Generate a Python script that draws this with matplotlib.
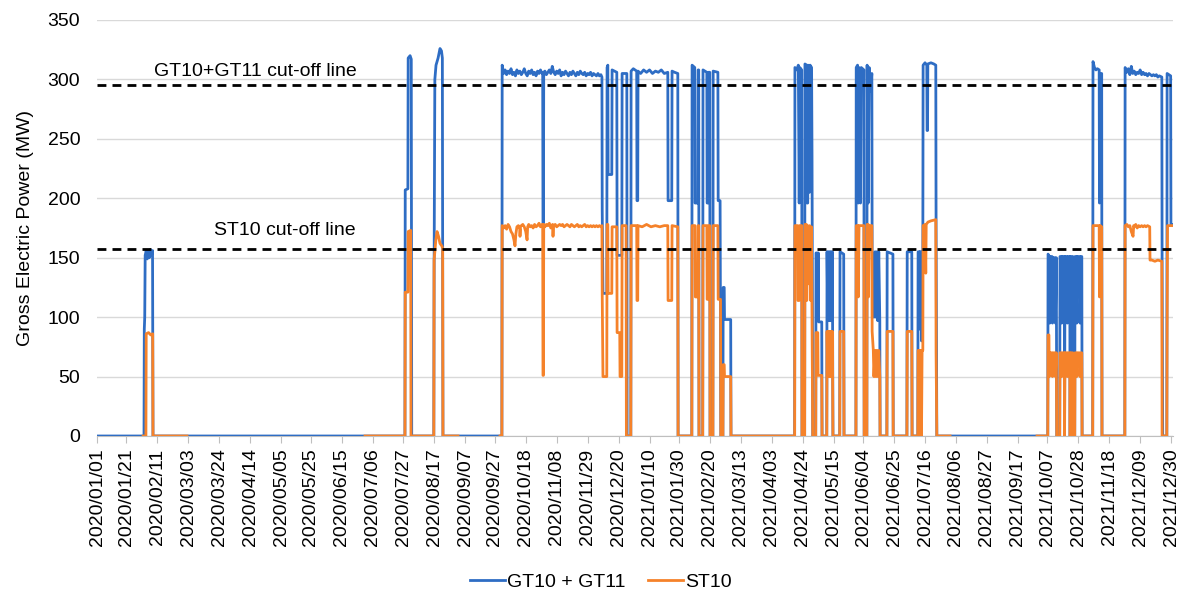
import numpy as np
import pandas as pd
import matplotlib
matplotlib.use("Agg")
import matplotlib.pyplot as plt

plt.rcParams['font.family'] = ['Liberation Sans', 'DejaVu Sans']

# x values: days since 2020-01-01, y values: MW
gt_points = [
    (0, 0), (31.9, 0), (32.1, 90), (32.4, 100), (32.7, 152), (33.4, 156), (34.1, 149), (34.8, 156), (35.5, 150),
    (36.2, 157), (37.0, 152), (37.7, 156), (38.0, 0),
    (209.0, 0), (209.2, 207), (211.0, 208), (211.2, 318), (212.5, 320), (213.3, 317), (213.6, 0),
    (228.6, 0), (228.8, 140), (229.3, 300), (230.1, 312), (231.5, 318), (232.8, 326), (233.8, 324), (234.4, 318), (234.8, 0),
    (274.8, 0), (275.0, 312), (276, 305), (277, 308), (278, 304), (279, 307), (280, 305), (281, 309), (282, 304),
    (283, 306), (284, 303), (285, 308), (286, 305), (287, 307), (288, 304), (289, 306), (290, 309), (291, 305),
    (292, 303), (293, 307), (294, 305), (295, 308), (296, 304), (297, 306), (298, 303), (299, 307), (300, 305),
    (301, 308), (302, 305), (302.5, 306), (302.7, 179), (303.0, 179), (303.2, 306), (304, 307), (305, 304),
    (306, 306), (307, 308), (308, 305), (309, 311), (310, 306), (311, 304), (312, 307), (313, 305), (314, 308),
    (315, 303), (316, 306), (317, 304), (318, 307), (319, 305), (320, 303), (321, 306), (322, 304), (323, 307),
    (324, 305), (325, 303), (326, 306), (327, 304), (328, 307), (329, 305), (330, 304), (331, 306), (332, 303),
    (333, 305), (334, 304), (335, 306), (336, 303), (337, 305), (338, 304), (339, 303), (340, 305), (341, 303),
    (342, 304), (342.7, 302),
    (342.9, 190), (343.4, 120), (346.0, 120), (346.2, 310), (346.7, 312), (346.9, 220), (349.4, 220), (349.6, 308),
    (352.8, 306), (353.0, 152), (356.2, 152), (356.4, 305), (359.6, 305), (359.8, 0), (362.3, 0), (362.5, 307),
    (364, 309), (366.3, 307), (366.5, 198), (367.0, 198), (367.2, 307), (369, 305), (371, 308), (373, 306),
    (375, 308), (377, 305), (379, 307), (381, 306), (383, 308), (385, 305), (387.4, 306), (387.6, 198),
    (390.1, 198), (390.3, 307), (392, 306), (394.2, 305), (394.4, 0),
    (403.7, 0), (403.9, 312), (405.7, 310), (405.9, 196), (407.8, 196), (408.0, 308), (408.4, 308), (408.6, 0),
    (411.1, 0), (411.3, 308), (413.9, 306), (414.1, 196), (414.8, 196), (415.0, 306), (415.9, 306), (416.1, 0),
    (418.0, 0), (418.2, 307), (421.4, 306), (421.6, 198), (422.9, 198), (423.4, 0), (424.8, 0), (425.0, 125),
    (425.7, 125), (425.9, 98), (430.1, 98), (430.3, 0),
    (473.5, 0), (473.7, 310), (475, 308), (476, 312), (476.6, 196), (477.0, 310), (478.3, 308), (478.5, 0),
    (480.3, 0), (480.5, 313), (481.7, 312), (481.9, 196), (482.4, 196), (482.6, 312), (483.5, 205), (484.0, 312),
    (485.0, 310), (485.3, 235), (485.8, 0), (487.8, 0), (488.0, 154), (488.8, 154), (489.0, 98), (489.6, 154),
    (489.8, 96), (491.9, 96), (492.1, 0), (495.3, 0), (495.5, 155), (496.0, 97), (496.4, 155), (496.9, 97),
    (497.3, 155), (497.8, 97), (498.2, 155), (498.7, 97), (499.1, 155), (499.5, 0), (504.1, 0), (504.3, 155),
    (506.8, 153), (507.0, 0),
    (515.1, 0), (515.3, 310), (516.2, 312), (516.7, 196), (517.2, 310), (518.2, 196), (518.7, 310), (520.5, 308),
    (520.7, 0), (522.5, 0), (522.7, 312), (523.4, 196), (524.1, 310), (525.0, 290), (525.9, 305), (526.1, 155),
    (526.9, 150), (527.3, 100), (528.1, 155), (528.6, 100), (529.3, 155), (529.9, 97), (530.6, 155), (531.3, 97),
    (531.5, 0), (536.1, 0), (536.3, 155), (540.2, 153), (540.4, 0),
    (549.7, 0), (549.9, 155), (553.0, 155), (553.2, 0), (557.1, 0), (557.3, 155), (558.1, 155), (558.3, 90),
    (558.6, 155), (559.3, 155), (559.6, 80), (560.0, 155), (560.5, 155), (560.7, 312), (562, 314), (563.2, 312),
    (563.4, 257), (563.7, 257), (563.9, 313), (566, 314), (568, 313), (569.3, 312), (569.5, 177), (570.0, 0),
    (645.3, 0), (645.5, 153), (646.4, 151), (646.7, 95), (647.2, 151), (648.2, 151), (648.5, 95), (649.1, 150),
    (650.2, 150), (650.5, 95), (651.1, 150), (651.4, 0), (653.4, 0), (653.6, 151), (654.5, 151), (654.8, 95),
    (655.3, 151), (656.5, 151), (656.7, 0), (657.0, 151), (658.3, 151), (658.6, 95), (659.2, 151), (660.2, 151),
    (660.5, 0), (660.8, 151), (662.3, 151), (662.5, 0), (663.6, 0), (663.8, 151), (664.7, 151), (665.0, 95),
    (665.5, 151), (666.9, 151), (667.2, 95), (667.9, 151), (668.4, 151), (668.6, 0),
    (675.8, 0), (676.0, 315), (677, 310), (678, 308), (679, 309), (680.2, 308), (680.4, 196), (680.9, 305),
    (681.9, 305), (682.1, 0),
    (697.6, 0), (697.8, 310), (699, 306), (700, 309), (701, 304), (702, 311), (703, 305), (704, 307), (705, 304),
    (706, 306), (707, 305), (708, 308), (709, 304), (710, 306), (711, 304), (712, 305), (713, 303), (714, 305),
    (715, 304), (716, 303), (717, 304), (718, 303), (719, 304), (720, 302), (721, 303), (722.7, 302),
    (722.9, 150), (723.3, 0), (726.1, 0), (726.3, 305), (727.5, 304), (728.7, 303), (728.9, 178), (730.3, 178),
]

st_points = [
    (31.3, 0), (33.2, 0), (33.4, 86), (35, 87), (36.5, 85), (37.8, 86), (38.0, 0), (61.1, 0), (61.2, np.nan),
    (181.9, 0), (209.0, 0), (209.2, 121), (211.0, 121), (211.2, 172), (212.9, 173), (213.1, 0),
    (228.6, 0), (228.8, 148), (230.0, 165), (230.8, 172), (231.8, 168), (232.8, 162), (234.0, 160), (234.6, 158),
    (234.8, 0), (245.0, 0), (245.1, np.nan),
    (273.5, 0), (274.8, 0), (275.0, 177), (276, 175), (277, 177), (278, 174), (279, 178), (280, 176), (281, 172),
    (282, 170), (283, 165), (283.7, 160), (284.3, 170), (285, 176), (286, 177), (287, 174), (287.1, 168),
    (287.4, 176), (288, 177), (289, 178), (290, 176), (291, 172), (291.9, 165), (292.3, 176), (293, 178),
    (294, 176), (295, 177), (296, 175), (297, 178), (298, 176), (299, 177), (300, 179), (301, 176), (302, 178),
    (302.5, 177), (302.7, 51), (303.0, 51), (303.2, 178), (304, 176), (305, 178), (306, 177), (307, 179),
    (308, 175), (309.2, 178), (309.5, 168), (309.9, 177), (311, 178), (312, 176), (313, 177), (314, 178),
    (315, 177), (316, 178), (317, 176), (318, 177), (319, 178), (320, 177), (321, 176), (322, 178), (323, 177),
    (324, 176), (325, 177), (326, 178), (327, 176), (328, 177), (329, 176), (330, 177), (331, 178), (332, 176),
    (333, 177), (334, 176), (335, 177), (336, 176), (337, 177), (338, 176), (339, 177), (340, 176), (341, 177),
    (342, 176), (342.7, 177),
    (342.9, 120), (343.4, 50), (346.0, 50), (346.2, 178), (346.7, 178), (346.9, 120), (349.4, 120), (349.6, 176),
    (352.8, 176), (353.0, 87), (354.8, 87), (355.0, 50), (356.2, 50), (356.4, 177), (359.1, 177), (359.3, 0),
    (362.3, 0), (362.5, 177), (366.3, 177), (366.5, 114), (367.0, 114), (367.2, 177), (370, 176), (373, 178),
    (376, 176), (379, 177), (382, 176), (385, 177), (387.4, 177), (387.6, 114), (390.1, 114), (390.3, 177),
    (394.2, 176), (394.4, 0),
    (403.7, 0), (403.9, 177), (405.9, 177), (406.1, 117), (407.8, 117), (408.0, 177), (408.4, 177), (408.6, 0),
    (411.1, 0), (411.3, 177), (413.9, 177), (414.1, 115), (414.8, 115), (415.0, 177), (415.9, 177), (416.1, 0),
    (418.0, 0), (418.2, 177), (421.4, 177), (421.6, 115), (423.2, 115), (423.4, 0), (424.8, 0), (425.0, 60),
    (425.7, 60), (425.9, 50), (430.1, 50), (430.3, 0),
    (473.5, 0), (473.7, 177), (475.5, 177), (475.7, 114), (476.6, 114), (476.8, 177), (478.3, 177), (478.5, 0),
    (480.3, 0), (480.5, 178), (481.5, 178), (481.7, 114), (482.3, 177), (483.2, 128), (483.7, 177), (484.4, 114),
    (484.9, 176), (485.8, 0), (487.8, 0), (488.0, 87), (489.2, 87), (489.4, 51), (491.9, 51), (492.1, 0),
    (495.3, 0), (495.5, 88), (496.0, 50), (496.4, 88), (496.9, 50), (497.3, 88), (497.8, 50), (498.2, 88),
    (498.7, 50), (499.1, 88), (499.5, 0), (504.1, 0), (504.3, 88), (506.8, 88), (507.0, 0),
    (515.1, 0), (515.3, 177), (516.5, 177), (516.7, 117), (517.2, 177), (520.5, 177), (520.7, 0), (522.5, 0),
    (522.7, 178), (523.4, 178), (523.6, 117), (524.1, 177), (525.9, 177), (526.1, 88), (526.9, 72), (527.3, 50),
    (528.1, 72), (528.6, 50), (529.3, 72), (529.9, 50), (530.6, 72), (531.3, 50), (531.5, 0), (536.1, 0),
    (536.3, 88), (540.2, 88), (540.4, 0),
    (549.7, 0), (549.9, 88), (553.0, 88), (553.2, 0), (557.1, 0), (557.3, 72), (558.1, 72), (558.3, 0),
    (558.6, 72), (559.3, 72), (559.6, 0), (560.0, 72), (560.5, 72), (560.7, 177), (562, 178), (562.5, 137),
    (562.8, 178), (564, 180), (566, 181), (569.3, 182), (569.5, 70), (570.0, 0), (579.0, 0), (579.1, np.nan),
    (638.0, 0), (645.3, 0),
    (645.5, 85), (646.1, 85), (646.3, 50), (646.7, 70), (648.2, 70), (648.5, 50), (649.1, 70), (650.2, 70),
    (650.5, 50), (651.1, 70), (651.4, 0), (653.4, 0), (653.6, 70), (654.5, 70), (654.8, 50), (655.3, 70),
    (656.5, 70), (656.7, 0), (657.0, 70), (658.3, 70), (658.6, 50), (659.2, 70), (660.2, 70), (660.5, 0),
    (660.8, 70), (662.3, 70), (662.5, 0), (663.6, 0), (663.8, 70), (664.7, 70), (665.0, 50), (665.5, 70),
    (666.9, 70), (667.2, 50), (667.9, 70), (668.4, 70), (668.6, 0),
    (675.8, 0), (676.0, 177), (680.2, 177), (680.4, 117), (680.9, 177), (681.9, 176), (682.1, 0),
    (697.6, 0), (697.8, 177), (699, 178), (700, 176), (701, 177), (702, 172), (703.2, 168), (703.6, 177),
    (704, 176), (705, 178), (706, 175), (707, 177), (708, 176), (709, 177), (710, 176), (711, 177), (712, 176),
    (713, 177), (714.5, 176), (714.7, 148), (716, 148), (718, 147), (720, 148), (722.7, 147), (722.9, 0),
    (726.1, 0), (726.3, 90), (726.6, 177), (730.3, 177),
]

gt_cutoff = 295
st_cutoff = 157
tick_labels = ["2020/01/01", "2020/01/21", "2020/02/11", "2020/03/03", "2020/03/24", "2020/04/14",
               "2020/05/05", "2020/05/25", "2020/06/15", "2020/07/06", "2020/07/27", "2020/08/17",
               "2020/09/07", "2020/09/27", "2020/10/18", "2020/11/08", "2020/11/29", "2020/12/20",
               "2021/01/10", "2021/01/30", "2021/02/20", "2021/03/13", "2021/04/03", "2021/04/24",
               "2021/05/15", "2021/06/04", "2021/06/25", "2021/07/16", "2021/08/06", "2021/08/27",
               "2021/09/17", "2021/10/07", "2021/10/28", "2021/11/18", "2021/12/09", "2021/12/30"]
start = pd.Timestamp("2020-01-01")
x_end_days = 730.3

def to_dates(days):
    return start + pd.to_timedelta(np.asarray(days, dtype=float), unit="D")

gt_day, gt_mw = zip(*gt_points)
st_day, st_mw = zip(*st_points)

fig = plt.figure(figsize=(11.78, 5.95), dpi=100)
ax = fig.add_axes([97/1178, 1-436/595, (1173-97)/1178, (436-20)/595])

blue = '#2E6DC4'
orange = '#F5822A'
ax.plot(to_dates(gt_day), gt_mw, color=blue, lw=2.0, label='GT10 + GT11', zorder=3)
ax.plot(to_dates(st_day), st_mw, color=orange, lw=2.0, label='ST10', zorder=4)

ax.axhline(gt_cutoff, color='black', lw=2, dashes=(3.2, 2.2), zorder=5)
ax.axhline(st_cutoff, color='black', lw=2, dashes=(3.2, 2.2), zorder=5)
ax.text(to_dates([107.2])[0], 307, 'GT10+GT11 cut-off line', ha='center', va='center', fontsize=14, zorder=6)
ax.text(to_dates([127.6])[0], 173.3, 'ST10 cut-off line', ha='center', va='center', fontsize=14, zorder=6)

ax.set_xlim(to_dates([0])[0], to_dates([x_end_days])[0])
ax.set_ylim(0, 350)
ax.set_yticks(range(0, 351, 50))
ax.set_xticks(pd.to_datetime(tick_labels, format="%Y/%m/%d"))
ax.set_xticklabels(tick_labels, rotation=90, fontsize=14)
ax.tick_params(axis='y', labelsize=14, length=0, pad=12)
ax.tick_params(axis='x', length=5, color='#BFBFBF', pad=4)
ax.grid(axis='y', color='#D9D9D9', lw=1)
ax.set_axisbelow(True)
for s in ['top', 'right', 'left']:
    ax.spines[s].set_visible(False)
ax.spines['bottom'].set_color('#BFBFBF')
ax.set_ylabel('Gross Electric Power (MW)', fontsize=14, labelpad=10)

fig.legend(loc='center', bbox_to_anchor=(0.51, 1-582/595), ncol=2, frameon=False, fontsize=14,
           handlelength=1.8, handletextpad=0.1, columnspacing=1.2)

fig.savefig('out.png', dpi=100)
